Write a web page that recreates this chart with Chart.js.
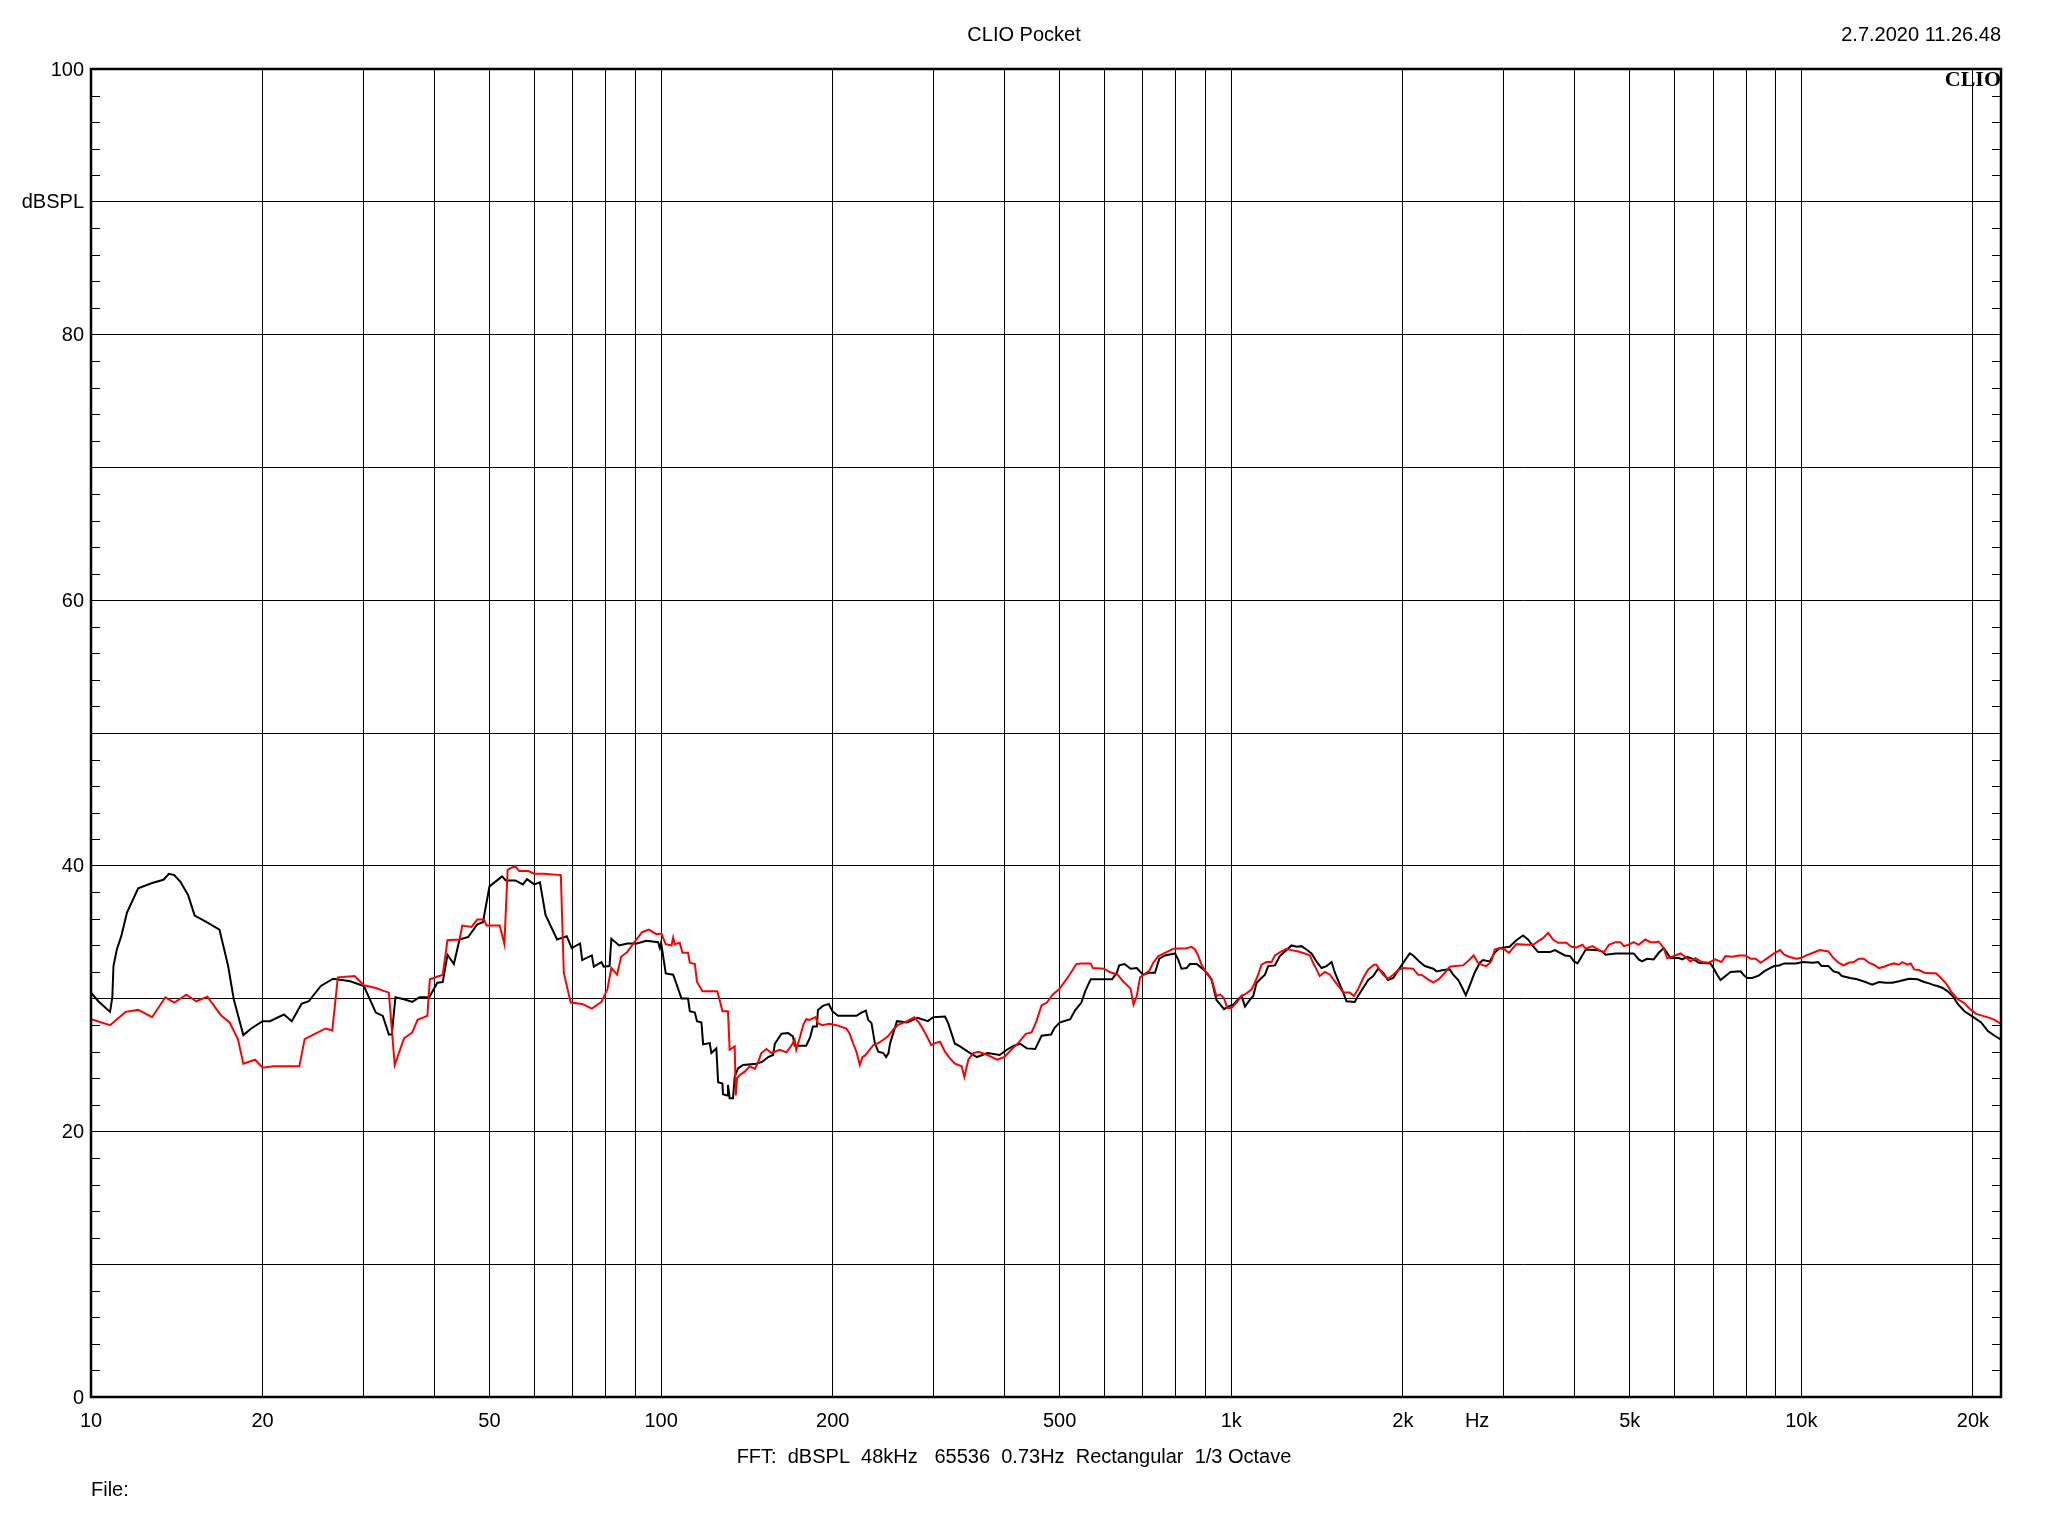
<!DOCTYPE html>
<html>
<head>
<meta charset="utf-8">
<title>CLIO Pocket</title>
<script src="https://cdn.jsdelivr.net/npm/chart.js@4.4.1/dist/chart.umd.min.js"></script>
<style>
  html, body { margin: 0; padding: 0; background: #fff; }
  #wrap { position: relative; width: 2048px; height: 1536px; }
</style>
</head>
<body>
<div id="wrap"><canvas id="chart"></canvas></div>
<script>
// Black trace (frequency in Hz, level in dBSPL)
const blackHz = [10, 10.3, 10.8, 10.9, 10.95, 11.1, 11.3, 11.56, 12.1, 12.8, 13.4, 13.7, 14.0, 14.35, 14.8, 15.2, 15.9, 16.8, 17.4, 17.8,
  18.5, 19.1, 20.0, 20.6, 21.8, 22.5, 23.4, 24.1, 25.3, 26.6, 28.5, 30.1, 31.6, 32.5, 33.3, 33.7, 34.2, 35.4, 36.6, 37.7,
  39.2, 40.5, 41.4, 42.2, 43.3, 44.3, 45.9, 47.6, 48.7, 50.0, 52.6, 53.4, 55.5, 57.2, 58.2, 59.9, 61.3, 62.7, 65.7, 68.3,
  69.7, 72.1, 72.7, 75.6, 76.2, 78.6, 79.3, 81.2, 81.8, 84.4, 87.2, 90.7, 94.2, 98.8, 99.5, 100, 101.9, 105, 106.4, 108.6,
  111.5, 112.3, 114.6, 115.6, 117.7, 118.5, 121.7, 122.5, 125, 125.9, 128.1, 128.4, 130.5, 131.0, 131.9, 133.7, 134.6, 136.4, 139.2, 147,
  150.6, 154.1, 157.2, 158.3, 162.6, 167, 170.3, 171.5, 179.7, 182.6, 184.6, 187.6, 188.4, 192.3, 196.8, 199.7, 204.3, 220.1, 224.6, 228.6,
  230.8, 233.9, 237.1, 240.4, 245.4, 248.1, 250.5, 252.2, 256.7, 259.2, 270.2, 281.8, 293.7, 300.1, 314.7, 318.8, 327.6, 334.4, 348.4, 358.2,
  373.6, 392.6, 404, 415.9, 426.6, 437.9, 453, 465, 483, 490, 500, 522, 532, 546, 555, 567, 595, 618, 630, 636,
  650, 666, 683, 700, 718, 735, 748, 765, 797, 807, 818, 835, 846, 870, 899, 911, 924, 942, 955, 971,
  988, 1008, 1029, 1043, 1057, 1078, 1093, 1108, 1130, 1146, 1161, 1193, 1217, 1242, 1276, 1302, 1328, 1355, 1383, 1411,
  1440, 1470, 1500, 1520, 1551, 1572, 1593, 1647, 1669, 1704, 1739, 1774, 1810, 1847, 1884, 1924, 1975, 2029, 2057, 2085,
  2142, 2186, 2262, 2293, 2354, 2418, 2451, 2502, 2550, 2579, 2621, 2673, 2729, 2765, 2840, 2898, 2956, 3078, 3163, 3250,
  3316, 3384, 3454, 3624, 3696, 3774, 3851, 3930, 3995, 4049, 4104, 4187, 4388, 4477, 4537, 4722, 5081, 5185, 5255, 5362,
  5509, 5622, 5737, 5815, 5894, 6096, 6179, 6305, 6477, 6609, 6928, 7023, 7118, 7215, 7363, 7514, 7826, 7932, 8040, 8205,
  8431, 8604, 8780, 8960, 9143, 9331, 9787, 10061, 10485, 10704, 10852, 11155, 11389, 11622, 11780, 12189, 12523, 12957, 13314, 13680,
  14056, 14442, 14840, 15144, 15454, 15987, 16426, 16762, 17107, 17342, 17696, 18058, 18430, 18807, 19326, 20120, 20675, 21245, 21830, 22400];
const blackDb = [30.45, 29.8, 29.0, 30.1, 32.45, 33.7, 34.7, 36.45, 38.3, 38.7, 38.95, 39.4, 39.3, 38.8, 37.8, 36.25, 35.8, 35.2, 32.45, 29.95,
  27.25, 27.75, 28.3, 28.3, 28.8, 28.3, 29.6, 29.8, 30.95, 31.5, 31.3, 30.95, 28.95, 28.7, 27.3, 27.3, 30.1, 29.95, 29.75, 30.1,
  30.1, 31.2, 31.25, 33.3, 32.6, 34.45, 34.65, 35.6, 35.75, 38.45, 39.2, 38.9, 38.9, 38.6, 39.0, 38.6, 38.75, 36.3, 34.45, 34.7,
  33.8, 34.15, 32.9, 33.25, 32.4, 32.75, 32.4, 32.45, 34.5, 34.0, 34.15, 34.15, 34.35, 34.25, 33.8, 34.2, 31.9, 31.8, 31.1, 30.0,
  30.0, 29.05, 28.95, 28.3, 28.2, 26.55, 26.65, 25.9, 26.25, 23.7, 23.6, 22.8, 22.7, 23.5, 22.5, 22.5, 24.1, 24.75, 25.0, 25.1,
  25.25, 25.6, 25.75, 26.6, 27.35, 27.4, 27.15, 26.45, 26.45, 27.1, 27.9, 27.9, 29.15, 29.45, 29.6, 29.05, 28.7, 28.7, 28.95, 29.1,
  28.4, 28.15, 26.65, 26.0, 25.9, 25.6, 25.9, 26.65, 27.7, 28.3, 28.2, 28.55, 28.3, 28.6, 28.65, 28.15, 26.6, 26.4, 25.9, 25.6,
  25.9, 25.75, 26.15, 26.45, 26.6, 26.25, 26.2, 27.2, 27.3, 27.8, 28.2, 28.45, 29.1, 29.7, 30.6, 31.45, 31.45, 31.45, 31.95, 32.5,
  32.6, 32.25, 32.3, 31.8, 31.95, 31.95, 33.0, 33.25, 33.4, 32.95, 32.25, 32.3, 32.6, 32.6, 32.1, 31.8, 31.4, 29.9, 29.6, 29.2,
  29.4, 29.55, 29.95, 30.2, 29.4, 29.9, 30.2, 31.2, 31.55, 31.8, 32.45, 32.5, 33.2, 33.55, 34.0, 33.9, 33.95, 33.7, 33.4, 32.8,
  32.3, 32.45, 32.75, 31.95, 31.05, 30.45, 29.8, 29.75, 30.2, 30.8, 31.4, 31.7, 32.25, 31.95, 31.4, 31.55, 32.3, 33.05, 33.4, 33.25,
  32.75, 32.45, 32.25, 32.05, 32.15, 32.2, 31.8, 31.4, 30.7, 30.25, 31.0, 31.95, 32.7, 32.9, 32.8, 33.45, 33.8, 33.9, 34.4, 34.75,
  34.45, 33.95, 33.5, 33.5, 33.65, 33.45, 33.25, 33.2, 32.8, 32.65, 33.05, 33.7, 33.65, 33.55, 33.3, 33.4, 33.4, 32.95, 32.8, 33.0,
  32.95, 33.45, 33.8, 33.45, 33.05, 33.05, 32.95, 33.15, 32.95, 32.7, 32.65, 32.25, 31.8, 31.4, 31.7, 32.0, 32.05, 31.75, 31.55, 31.55,
  31.75, 32.05, 32.25, 32.45, 32.5, 32.65, 32.65, 32.75, 32.7, 32.75, 32.45, 32.45, 32.05, 31.95, 31.7, 31.55, 31.45, 31.25, 31.05, 31.25,
  31.2, 31.2, 31.3, 31.4, 31.5, 31.45, 31.25, 31.15, 31.0, 30.95, 30.8, 30.55, 30.2, 29.6, 29.05, 28.55, 28.2, 27.55, 27.2, 26.9];

// Red trace
const redHz = [10, 10.8, 11.5, 12.1, 12.8, 13.5, 14.0, 14.7, 15.3, 16.0, 16.9, 17.5, 18.1, 18.5, 19.4, 20.0, 20.9, 23.2, 23.7, 24.6,
  25.8, 26.5, 27.1, 29.0, 30.1, 31.6, 32.5, 33.3, 34.1, 35.4, 36.6, 37.4, 38.9, 39.3, 41.4, 42.2, 44.3, 44.8, 46.5, 47.6,
  48.9, 49.4, 52.1, 53.1, 53.8, 55.4, 56.4, 58.5, 59.9, 62.2, 66.7, 67.5, 69.4, 72.7, 75.6, 78.6, 80.5, 81.8, 83.7, 85.1,
  87.2, 89.4, 92.6, 95.2, 98.1, 100.1, 101.9, 104.3, 105, 105.7, 107.8, 109, 111.5, 112.3, 114.6, 115.6, 118.2, 125.4, 126.7, 128.1,
  131, 131.9, 134.6, 135.2, 135.9, 137.4, 140.2, 143.1, 146, 147.9, 149.9, 153, 156.1, 161.5, 165.9, 169.2, 171.5, 172.6, 174.9, 177.7,
  179.7, 182.1, 186.6, 188.4, 191.7, 197.4, 202.9, 211.3, 214.2, 217.1, 220.1, 223.1, 225.6, 227.7, 232.6, 235.7, 240.4, 245.4, 250.5, 255.6,
  261, 270.2, 277.9, 283.8, 289.7, 297.9, 302.3, 308.4, 314.7, 321.1, 327.6, 336.7, 340.4, 345.8, 352.9, 360.4, 373.6, 388.6, 400, 411.4,
  423.1, 436.2, 446.5, 455.4, 465, 475, 486, 499, 518, 535, 546, 567, 572, 598, 612, 632, 646, 666, 674, 683,
  692, 718, 730, 745, 765, 792, 835, 852, 864, 875, 887, 905, 924, 942, 957, 971, 984, 1001, 1022, 1043,
  1064, 1086, 1100, 1115, 1130, 1153, 1177, 1193, 1225, 1250, 1276, 1311, 1346, 1374, 1392, 1411, 1430, 1460, 1490, 1520,
  1551, 1572, 1614, 1641, 1669, 1704, 1739, 1779, 1797, 1847, 1884, 1924, 1962, 2002, 2085, 2127, 2156, 2214, 2262, 2309,
  2354, 2418, 2468, 2550, 2621, 2662, 2710, 2765, 2802, 2859, 2898, 2956, 3016, 3070, 3163, 3294, 3384, 3477, 3524, 3596,
  3669, 3744, 3871, 3951, 4031, 4132, 4187, 4302, 4418, 4507, 4598, 4722, 4817, 4882, 4980, 5081, 5185, 5326, 5435, 5547,
  5622, 5737, 5815, 5934, 6137, 6263, 6390, 6520, 6697, 6881, 7070, 7244, 7363, 7565, 7773, 7986, 8150, 8317, 8488, 8721,
  8960, 9180, 9331, 9521, 9787, 9992, 10197, 10485, 10778, 11155, 11389, 11622, 11862, 12106, 12355, 12609, 12868, 13133, 13404, 13680,
  13961, 14248, 14541, 14840, 15043, 15351, 15557, 15771, 16096, 16426, 16876, 17224, 17578, 17938, 18306, 18807, 19326, 19852, 20257, 20816,
  21390, 21830, 22400];
const redDb = [28.45, 28.0, 29.0, 29.15, 28.6, 30.1, 29.7, 30.3, 29.8, 30.15, 28.75, 28.2, 26.95, 25.1, 25.4, 24.8, 24.9, 24.9, 26.95, 27.3,
  27.75, 27.6, 31.6, 31.7, 31.0, 30.8, 30.6, 30.45, 25.0, 27.0, 27.45, 28.4, 28.7, 31.45, 31.8, 34.4, 34.45, 35.5, 35.4, 35.95,
  35.95, 35.5, 35.5, 34.1, 39.7, 40.0, 39.6, 39.6, 39.4, 39.4, 39.3, 31.95, 29.7, 29.6, 29.25, 29.75, 30.7, 32.3, 31.8, 33.15,
  33.5, 34.15, 35.0, 35.2, 34.85, 34.9, 34.1, 34.0, 34.6, 34.1, 34.2, 33.45, 33.45, 32.7, 32.6, 31.25, 30.55, 30.55, 29.9, 29.05,
  29.05, 26.15, 26.4, 22.7, 24.0, 24.25, 24.5, 24.9, 24.7, 25.2, 25.9, 26.2, 25.9, 26.15, 25.95, 26.45, 26.9, 26.15, 27.0, 28.05,
  28.45, 28.4, 28.6, 28.15, 28.0, 28.1, 28.0, 27.75, 27.35, 26.65, 26.0, 25.0, 25.6, 25.7, 26.2, 26.5, 26.65, 26.9, 27.2, 27.7,
  28.05, 28.3, 28.6, 28.15, 27.5, 26.5, 26.65, 26.75, 26.0, 25.5, 25.1, 24.9, 24.1, 25.4, 25.9, 26.0, 25.75, 25.4, 25.6, 26.15,
  26.65, 27.35, 27.45, 28.3, 29.5, 29.7, 30.3, 30.7, 31.65, 32.6, 32.65, 32.65, 32.3, 32.25, 32.0, 31.8, 31.3, 30.75, 29.55, 30.2,
  31.6, 32.1, 32.7, 33.2, 33.45, 33.75, 33.8, 33.9, 33.7, 33.25, 32.55, 31.9, 31.45, 30.2, 30.3, 30.05, 29.3, 29.3, 29.7, 30.2,
  30.4, 30.7, 31.2, 31.8, 32.55, 32.75, 32.75, 33.25, 33.55, 33.75, 33.65, 33.55, 33.4, 33.25, 32.7, 32.2, 31.7, 32.0, 31.8, 31.3,
  30.8, 30.45, 30.45, 30.2, 30.7, 31.55, 32.2, 32.55, 32.55, 31.8, 31.5, 31.8, 32.15, 32.3, 32.25, 31.8, 31.8, 31.45, 31.2, 31.45,
  31.8, 32.4, 32.45, 32.5, 32.95, 33.25, 32.7, 32.5, 32.45, 32.8, 33.7, 33.8, 33.7, 33.45, 34.1, 34.05, 34.05, 34.4, 34.55, 34.95,
  34.45, 34.2, 34.2, 33.9, 33.85, 34.05, 33.75, 33.95, 33.65, 33.5, 34.05, 34.25, 34.25, 33.95, 34.05, 34.25, 34.05, 34.45, 34.25, 34.25,
  34.3, 33.8, 33.05, 33.15, 33.4, 33.15, 32.8, 33.05, 32.75, 32.7, 32.95, 32.75, 33.2, 33.15, 33.25, 33.25, 33.0, 33.0, 32.7, 33.05,
  33.4, 33.65, 33.3, 33.15, 33.0, 33.05, 33.25, 33.45, 33.65, 33.55, 33.05, 32.7, 32.5, 32.7, 32.75, 33.0, 33.0, 32.7, 32.55, 32.3,
  32.4, 32.55, 32.65, 32.55, 32.75, 32.55, 32.65, 32.2, 32.15, 31.95, 31.9, 31.9, 31.55, 31.15, 30.55, 29.95, 29.65, 29.15, 28.85, 28.7,
  28.55, 28.4, 28.1];

// Axis labels
const xLabelHz = [10, 20, 50, 100, 200, 500, 1000, 2000, 2700, 5000, 10000, 20000];
const xLabelText = ['10', '20', '50', '100', '200', '500', '1k', '2k', 'Hz', '5k', '10k', '20k'];
const yLabelDb = [100, 90, 80, 60, 40, 20, 0];
const yLabelText = ['100', 'dBSPL', '80', '60', '40', '20', '0'];

// Vertical grid lines: 20..90, 100..900, 1k..9k, 10k, 20k
const xGridHz = [];
for (const dec of [10, 100, 1000]) {
  for (let m = (dec === 10 ? 2 : 1); m <= 9; m++) xGridHz.push(m * dec);
}
xGridHz.push(10000, 20000);

const FONT = '20px "Liberation Sans", Arial, sans-serif';

const clioFrame = {
  id: 'clioFrame',
  afterDraw(chart) {
    const { ctx, chartArea: a, scales: { x, y } } = chart;
    ctx.save();
    ctx.strokeStyle = '#000';
    ctx.fillStyle = '#000';

    // minor ticks every 2 dB on both sides
    ctx.lineWidth = 1;
    ctx.beginPath();
    for (let v = 2; v < 100; v += 2) {
      if (v % 10 === 0) continue;
      const py = Math.round(y.getPixelForValue(v)) + 0.5;
      ctx.moveTo(a.left, py); ctx.lineTo(a.left + 9, py);
      ctx.moveTo(a.right - 9, py); ctx.lineTo(a.right, py);
    }
    ctx.stroke();

    // frame
    ctx.lineWidth = 2.5;
    ctx.strokeRect(a.left, a.top, a.right - a.left, a.bottom - a.top);

    // y labels
    ctx.font = FONT;
    ctx.textAlign = 'right';
    ctx.textBaseline = 'middle';
    yLabelDb.forEach((v, i) => ctx.fillText(yLabelText[i], a.left - 7, y.getPixelForValue(v) + 1));

    // x labels
    ctx.textAlign = 'center';
    xLabelHz.forEach((f, i) => ctx.fillText(xLabelText[i], x.getPixelForValue(f), a.bottom + 24));

    // header
    ctx.fillText('CLIO Pocket', 1024, 35);
    ctx.textAlign = 'right';
    ctx.fillText('2.7.2020 11.26.48', a.right, 35);

    // footer
    ctx.textAlign = 'center';
    ctx.fillText('FFT:  dBSPL  48kHz   65536  0.73Hz  Rectangular  1/3 Octave', 1014, 1457);
    ctx.textAlign = 'left';
    ctx.fillText('File:', a.left, 1490);

    // logo
    ctx.font = 'bold 22px "Liberation Serif", "Times New Roman", serif';
    ctx.textAlign = 'right';
    ctx.textBaseline = 'alphabetic';
    ctx.fillText('CLIO', a.right, a.top + 17);
    ctx.restore();
  }
};

const toPoints = (hz, db) => hz.map((f, i) => ({ x: f, y: db[i] }));

new Chart(document.getElementById('chart'), {
  type: 'line',
  data: {
    datasets: [
      { label: 'Red', data: toPoints(redHz, redDb), borderColor: '#ff0000', borderWidth: 2 },
      { label: 'Black', data: toPoints(blackHz, blackDb), borderColor: '#000000', borderWidth: 2 }
    ]
  },
  options: {
    responsive: true,
    maintainAspectRatio: false,
    animation: false,
    devicePixelRatio: 1,
    layout: { padding: { left: 91, right: 47, top: 69, bottom: 139 } },
    elements: { point: { radius: 0 }, line: { tension: 0 } },
    plugins: { legend: { display: false }, tooltip: { enabled: false } },
    scales: {
      x: {
        type: 'logarithmic',
        min: 10,
        max: 22400,
        afterBuildTicks: (scale) => { scale.ticks = xGridHz.map(v => ({ value: v })); },
        ticks: { display: false },
        grid: { color: '#000', lineWidth: 1, drawTicks: false },
        border: { display: false }
      },
      y: {
        type: 'linear',
        min: 0,
        max: 100,
        ticks: { display: false, stepSize: 10 },
        grid: { color: '#000', lineWidth: 1, drawTicks: false },
        border: { display: false }
      }
    }
  },
  plugins: [clioFrame]
});
</script>
</body>
</html>
